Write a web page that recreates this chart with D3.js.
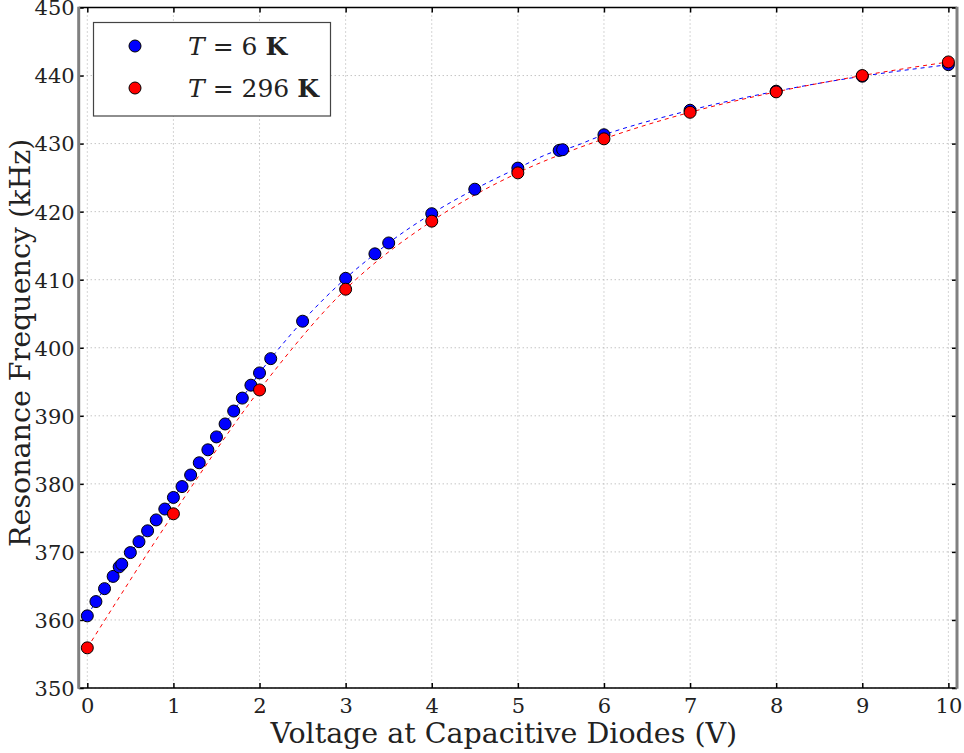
<!DOCTYPE html>
<html><head><meta charset="utf-8">
<script src="https://cdn.jsdelivr.net/npm/d3@7"></script>
<style>
html,body{margin:0;padding:0;background:#fff;}
svg text{font-family:"DejaVu Serif","Liberation Serif",serif;fill:#222;}
</style></head>
<body><svg id="c" width="964" height="753"></svg>
<script>
const blueX = [0,0.1,0.2,0.3,0.37,0.4,0.5,0.6,0.7,0.8,0.9,1.0,1.1,1.2,1.3,1.4,1.5,1.6,1.7,1.8,1.9,2.0,2.13,2.5,3.0,3.34,3.5,4.0,4.5,5.0,5.48,5.52,6,7,8,9,10];
const blueY = [360.6,362.7,364.6,366.4,367.8,368.2,369.9,371.5,373.1,374.7,376.3,378.0,379.6,381.3,383.1,385.0,386.9,388.8,390.7,392.6,394.5,396.3,398.4,403.9,410.2,413.8,415.4,419.7,423.3,426.4,429.0,429.1,431.3,434.9,437.7,439.9,441.6];
const redX = [0,1,2,3,4,5,6,7,8,9,10];
const redY = [355.9,375.6,393.8,408.6,418.6,425.7,430.7,434.6,437.6,440.0,442.0];
const xTicks = [0,1,2,3,4,5,6,7,8,9,10];
const yTicks = [350,360,370,380,390,400,410,420,430,440,450];
const legendLabels = [["T"," = 6 ","K"],["T"," = 296 ","K"]];

const svg = d3.select("#c");
const L=78.7, R=957, T=7.5, B=688;
const x = d3.scaleLinear().domain([-0.1,10.1]).range([L,R]);
const y = d3.scaleLinear().domain([350,450]).range([B,T]);

// grid
const grid = svg.append("g");
grid.selectAll("line.vx").data(xTicks).join("line")
  .attr("x1",d=>x(d)).attr("x2",d=>x(d)).attr("y1",T).attr("y2",B)
  .attr("stroke","#aaa").attr("stroke-width",1).attr("stroke-dasharray","1,3");
grid.selectAll("line.hy").data(yTicks).join("line")
  .attr("y1",d=>y(d)).attr("y2",d=>y(d)).attr("x1",L).attr("x2",R)
  .attr("stroke","#aaa").attr("stroke-width",1).attr("stroke-dasharray","1,3");

// axes with inward ticks
const ax = svg.append("g").attr("transform",`translate(0,${B})`)
  .call(d3.axisBottom(x).tickValues(xTicks).tickSize(-5).tickPadding(10).tickFormat(d3.format("d")));
const axT = svg.append("g").attr("transform",`translate(0,${T})`)
  .call(d3.axisTop(x).tickValues(xTicks).tickSize(-5).tickFormat(""));
const ay = svg.append("g").attr("transform",`translate(${L},0)`)
  .call(d3.axisLeft(y).tickValues(yTicks).tickSize(-5).tickPadding(4).tickFormat(d3.format("d")));
const ayR = svg.append("g").attr("transform",`translate(${R},0)`)
  .call(d3.axisRight(y).tickValues(yTicks).tickSize(-5).tickFormat(""));
[ax,axT,ay,ayR].forEach(g=>{g.select(".domain").remove();g.selectAll(".tick line").attr("stroke","#000").attr("stroke-width",1.5);});
ax.selectAll("text").attr("font-size",21).attr("fill","#222").attr("font-family","DejaVu Serif");
ay.selectAll("text").attr("font-size",21).attr("fill","#222").attr("dy","0.35em").attr("font-family","DejaVu Serif");

// lines
const pts = (xs,ys)=>xs.map((v,i)=>[v,ys[i]]);
const line = d3.line().x(d=>x(d[0])).y(d=>y(d[1])).curve(d3.curveMonotoneX);
svg.append("path").attr("d",line(pts(blueX,blueY))).attr("fill","none")
  .attr("stroke","#0000ff").attr("stroke-width",1).attr("stroke-dasharray","4,4");
svg.append("path").attr("d",line(pts(redX,redY))).attr("fill","none")
  .attr("stroke","#ff0000").attr("stroke-width",1).attr("stroke-dasharray","4,4");

// points
svg.append("g").selectAll("circle").data(pts(blueX,blueY)).join("circle")
  .attr("cx",d=>x(d[0])).attr("cy",d=>y(d[1])).attr("r",6)
  .attr("fill","#0000ff").attr("stroke","#000").attr("stroke-width",1);
svg.append("g").selectAll("circle").data(pts(redX,redY)).join("circle")
  .attr("cx",d=>x(d[0])).attr("cy",d=>y(d[1])).attr("r",6)
  .attr("fill","#ff0000").attr("stroke","#000").attr("stroke-width",1);

// frame
svg.append("line").attr("x1",L).attr("x2",R).attr("y1",T).attr("y2",T).attr("stroke","#000").attr("stroke-width",1.5);
svg.append("line").attr("x1",L).attr("x2",R).attr("y1",B).attr("y2",B).attr("stroke","#000").attr("stroke-width",1.5);
svg.append("line").attr("x1",L).attr("x2",L).attr("y1",T-0.75).attr("y2",B+0.75).attr("stroke","#808080").attr("stroke-width",3);
svg.append("line").attr("x1",R).attr("x2",R).attr("y1",T-0.75).attr("y2",B+0.75).attr("stroke","#808080").attr("stroke-width",3);

// legend
const lg = svg.append("g");
lg.append("rect").attr("x",93.5).attr("y",22.5).attr("width",237).attr("height",93.5)
  .attr("fill","#fff").attr("stroke","#444").attr("stroke-width",1.2);
const colors = ["#0000ff","#ff0000"];
legendLabels.forEach((lab,i)=>{
  const cy = 46 + i*42;
  lg.append("circle").attr("cx",135).attr("cy",cy).attr("r",6).attr("fill",colors[i]).attr("stroke","#000");
  const t = lg.append("text").attr("x",188).attr("y",cy+9).attr("font-size",25).attr("fill","#111");
  t.append("tspan").attr("font-style","italic").text(lab[0]);
  t.append("tspan").text(lab[1]);
  t.append("tspan").attr("font-weight","bold").text(lab[2]);
});

// axis labels
svg.append("text").attr("x",(L+R)/2 - 14).attr("y",743).attr("text-anchor","middle")
  .attr("font-size",28.5).attr("fill","#111").text("Voltage at Capacitive Diodes (V)");
svg.append("text").attr("transform",`translate(30,${(T+B)/2 - 5}) rotate(-90)`).attr("text-anchor","middle")
  .attr("font-size",28.5).attr("fill","#111").text("Resonance Frequency (kHz)");
</script></body></html>
